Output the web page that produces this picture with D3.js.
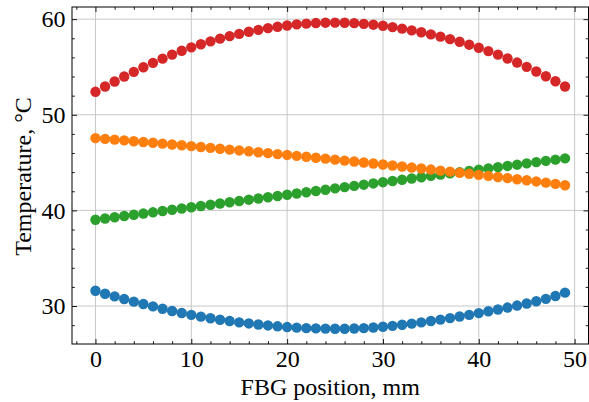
<!DOCTYPE html>
<html>
<head>
<meta charset="utf-8">
<script src="https://cdn.jsdelivr.net/npm/d3@7"></script>
<style>
  html, body { margin: 0; padding: 0; background: #fff; }
  svg { display: block; }
  text { font-family: "Liberation Serif", "DejaVu Serif", serif; fill: #000; }
</style>
</head>
<body>
<svg id="chart" width="589" height="402"></svg>
<script>
// FBG sensor positions along the fibre, mm
const positions = d3.range(0, 50);

// Temperature profiles, °C, one per measurement
const seriesRed = [52.40, 52.96, 53.48, 54.00, 54.49, 54.97, 55.43, 55.87, 56.29, 56.69,
  57.05, 57.38, 57.68, 57.96, 58.22, 58.46, 58.68, 58.88, 59.06, 59.21,
  59.34, 59.45, 59.53, 59.59, 59.63, 59.64, 59.62, 59.58, 59.51, 59.42,
  59.31, 59.17, 59.01, 58.83, 58.63, 58.41, 58.17, 57.91, 57.63, 57.33,
  57.01, 56.66, 56.29, 55.89, 55.46, 55.01, 54.53, 54.03, 53.51, 52.96];

const seriesOrange = [47.56, 47.48, 47.40, 47.32, 47.23, 47.15, 47.07, 46.98, 46.89, 46.81,
  46.72, 46.63, 46.54, 46.45, 46.36, 46.27, 46.18, 46.08, 45.99, 45.89,
  45.80, 45.70, 45.61, 45.51, 45.41, 45.31, 45.21, 45.11, 45.01, 44.90,
  44.80, 44.70, 44.59, 44.48, 44.38, 44.27, 44.16, 44.05, 43.94, 43.83,
  43.72, 43.61, 43.49, 43.38, 43.26, 43.15, 43.03, 42.90, 42.77, 42.63];

const seriesGreen = [39.02, 39.15, 39.28, 39.41, 39.54, 39.67, 39.80, 39.94, 40.07, 40.20,
  40.33, 40.46, 40.59, 40.72, 40.85, 40.98, 41.12, 41.25, 41.38, 41.51,
  41.64, 41.77, 41.90, 42.03, 42.16, 42.30, 42.43, 42.56, 42.69, 42.82,
  42.95, 43.08, 43.21, 43.34, 43.47, 43.61, 43.74, 43.87, 44.00, 44.13,
  44.26, 44.39, 44.52, 44.65, 44.78, 44.92, 45.05, 45.18, 45.31, 45.44];

const seriesBlue = [31.60, 31.29, 31.01, 30.73, 30.46, 30.21, 29.96, 29.72, 29.48, 29.27,
  29.08, 28.89, 28.72, 28.57, 28.43, 28.29, 28.18, 28.07, 27.97, 27.88,
  27.80, 27.74, 27.69, 27.66, 27.64, 27.63, 27.63, 27.65, 27.69, 27.75,
  27.83, 27.93, 28.04, 28.16, 28.29, 28.43, 28.58, 28.74, 28.91, 29.08,
  29.26, 29.45, 29.64, 29.84, 30.05, 30.27, 30.50, 30.75, 31.05, 31.40];

const xTicks = [0, 10, 20, 30, 40, 50];
const yTicks = [30, 40, 50, 60];
const xMinorTicks = [-2, 2, 4, 6, 8, 12, 14, 16, 18, 22, 24, 26, 28, 32, 34, 36, 38, 42, 44, 46, 48];
const yMinorTicks = [28, 32, 34, 36, 38, 42, 44, 46, 48, 52, 54, 56, 58];

const xLabel = "FBG position, mm";
const yLabel = "Temperature, °C";

// drawing order and colours
const series = [
  { values: seriesRed, color: "#d62728" },
  { values: seriesBlue, color: "#1f77b4" },
  { values: seriesGreen, color: "#2ca02c" },
  { values: seriesOrange, color: "#ff7f0e" }
];

const svg = d3.select("#chart");
const plot = { left: 72, right: 588.5, top: 7, bottom: 344 };

const x = d3.scaleLinear().domain([-2.45, 51.45]).range([plot.left, plot.right]);
const y = d3.scaleLinear().domain([26.03, 61.27]).range([plot.bottom, plot.top]);

// grid
const grid = svg.append("g").attr("stroke", "#c8c8c8").attr("stroke-width", 1);
grid.selectAll("line.gx").data(xTicks).join("line")
  .attr("x1", d => x(d)).attr("x2", d => x(d))
  .attr("y1", plot.top).attr("y2", plot.bottom);
grid.selectAll("line.gy").data(yTicks).join("line")
  .attr("y1", d => y(d)).attr("y2", d => y(d))
  .attr("x1", plot.left).attr("x2", plot.right);

// markers
series.forEach(s => {
  svg.append("g").selectAll("circle")
    .data(positions.map((p, i) => [p, s.values[i]]))
    .join("circle")
    .attr("cx", d => x(d[0]))
    .attr("cy", d => y(d[1]))
    .attr("r", 5.2)
    .attr("fill", s.color);
});

// axes: inward ticks on all four sides
const fontSize = 24;
function styleAxis(g) {
  g.select(".domain").remove();
  g.selectAll(".tick line").attr("stroke", "#000").attr("stroke-width", 0.9);
  g.selectAll("text").attr("font-size", fontSize).attr("font-family", "Liberation Serif, serif").attr("fill", "#000");
}

svg.append("g").attr("transform", `translate(0,${plot.bottom})`)
  .call(d3.axisBottom(x).tickValues(xTicks).tickSize(-5).tickPadding(6).tickFormat(d3.format("d")))
  .call(styleAxis);
svg.append("g").attr("transform", `translate(0,${plot.bottom})`)
  .call(d3.axisBottom(x).tickValues(xMinorTicks).tickSize(-2.8).tickFormat(""))
  .call(styleAxis);
svg.append("g").attr("transform", `translate(0,${plot.top})`)
  .call(d3.axisTop(x).tickValues(xTicks).tickSize(-5).tickFormat(""))
  .call(styleAxis);
svg.append("g").attr("transform", `translate(0,${plot.top})`)
  .call(d3.axisTop(x).tickValues(xMinorTicks).tickSize(-2.8).tickFormat(""))
  .call(styleAxis);

svg.append("g").attr("transform", `translate(${plot.left},0)`)
  .call(d3.axisLeft(y).tickValues(yTicks).tickSize(-5).tickPadding(6.5).tickFormat(d3.format("d")))
  .call(styleAxis);
svg.append("g").attr("transform", `translate(${plot.left},0)`)
  .call(d3.axisLeft(y).tickValues(yMinorTicks).tickSize(-2.8).tickFormat(""))
  .call(styleAxis);
svg.append("g").attr("transform", `translate(${plot.right},0)`)
  .call(d3.axisRight(y).tickValues(yTicks).tickSize(-5).tickFormat(""))
  .call(styleAxis);
svg.append("g").attr("transform", `translate(${plot.right},0)`)
  .call(d3.axisRight(y).tickValues(yMinorTicks).tickSize(-2.8).tickFormat(""))
  .call(styleAxis);

// frame
svg.append("rect")
  .attr("x", plot.left).attr("y", plot.top)
  .attr("width", plot.right - plot.left).attr("height", plot.bottom - plot.top)
  .attr("fill", "none").attr("stroke", "#000").attr("stroke-width", 1);

// axis titles
svg.append("text")
  .attr("x", (plot.left + plot.right) / 2)
  .attr("y", 395)
  .attr("text-anchor", "middle")
  .attr("font-size", fontSize)
  .text(xLabel);

svg.append("text")
  .attr("transform", `translate(31,${(plot.top + plot.bottom) / 2 + 1}) rotate(-90)`)
  .attr("text-anchor", "middle")
  .attr("font-size", fontSize)
  .text(yLabel);
</script>
</body>
</html>
